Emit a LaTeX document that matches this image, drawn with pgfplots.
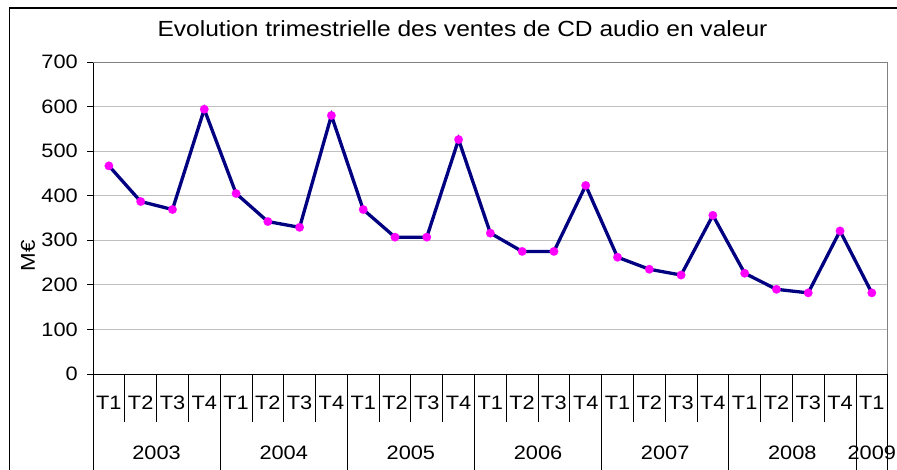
\documentclass[border=0pt]{standalone}
\usepackage{fontspec}
\setmainfont{Liberation Sans}[FakeStretch=1.12]
\usepackage{pgfplots}
\pgfplotsset{compat=1.18}
\definecolor{navyline}{RGB}{0,0,128}
\definecolor{mag}{RGB}{255,0,255}
\definecolor{gridgray}{RGB}{192,192,192}
\definecolor{framegray}{RGB}{128,128,128}
\begin{document}
\begin{tikzpicture}[x=1bp,y=1bp]
\useasboundingbox (0,0) rectangle (897,470);
\draw[black, line width=1.3bp] (9.5,-20) -- (9.5,462) -- (920,462);
\node[anchor=base, inner sep=0pt, font=\fontsize{22}{26}\selectfont] at (462.5,433) {Evolution trimestrielle des ventes de CD audio en valeur};
\node[rotate=90, inner sep=0pt, font=\fontsize{20}{24}\selectfont] at (28,214) {M€};
\begin{axis}[
  at={(93bp,96bp)}, anchor=south west,
  scale only axis, width=794.7bp, height=312bp,
  xmin=-0.5, xmax=24.5, ymin=0, ymax=700,
  axis x line*=bottom, axis y line*=left,
  axis line style={black, line width=0.9bp},
  ytick={0,100,...,700},
  ymajorgrids, grid style={gridgray, line width=0.8bp},
  ytick pos=left, tick align=outside, major tick length=6bp,
  tick style={black, line width=0.8bp},
  /pgf/number format/assume math mode=true,
  yticklabel style={font=\fontsize{19.5}{22}\selectfont, anchor=east, inner sep=0pt, xshift=-9bp},
  xtick={0,...,24},
  xticklabels={T1,T2,T3,T4,T1,T2,T3,T4,T1,T2,T3,T4,T1,T2,T3,T4,T1,T2,T3,T4,T1,T2,T3,T4,T1},
  x tick style={draw=none},
  xticklabel style={font=\fontsize{19.5}{22}\selectfont, anchor=base, inner sep=0pt, yshift=-30bp},
  clip=false,
]
\draw[framegray, line width=0.9bp] (rel axis cs:0,1) -- (rel axis cs:1,1) -- (rel axis cs:1,0);
\pgfplotsinvokeforeach{0.5,1.5,2.5,4.5,5.5,6.5,8.5,9.5,10.5,12.5,13.5,14.5,16.5,17.5,18.5,20.5,21.5,22.5}{
  \draw[black, line width=0.8bp] (axis cs:#1,0) -- ++(0bp,-48bp);
}
\pgfplotsinvokeforeach{-0.5,3.5,7.5,11.5,15.5,19.5,23.5,24.5}{
  \draw[black, line width=0.8bp] (axis cs:#1,0) -- ++(0bp,-130bp);
}
\node[anchor=base, inner sep=0pt, font=\fontsize{19.5}{22}\selectfont, yshift=-86bp] at (axis cs:1.5,0) {2003};
\node[anchor=base, inner sep=0pt, font=\fontsize{19.5}{22}\selectfont, yshift=-86bp] at (axis cs:5.5,0) {2004};
\node[anchor=base, inner sep=0pt, font=\fontsize{19.5}{22}\selectfont, yshift=-86bp] at (axis cs:9.5,0) {2005};
\node[anchor=base, inner sep=0pt, font=\fontsize{19.5}{22}\selectfont, yshift=-86bp] at (axis cs:13.5,0) {2006};
\node[anchor=base, inner sep=0pt, font=\fontsize{19.5}{22}\selectfont, yshift=-86bp] at (axis cs:17.5,0) {2007};
\node[anchor=base, inner sep=0pt, font=\fontsize{19.5}{22}\selectfont, yshift=-86bp] at (axis cs:21.5,0) {2008};
\node[anchor=base, inner sep=0pt, font=\fontsize{19.5}{22}\selectfont, yshift=-86bp] at (axis cs:24,0) {2009};
\addplot[navyline, line width=3.3bp, mark=*, mark size=4.3bp, mark options={fill=mag, draw=mag, line width=0.1bp}]
coordinates {
(0,467) (1,387) (2,369) (3,594)
(4,405) (5,342) (6,329) (7,580)
(8,369) (9,307) (10,307) (11,526)
(12,316) (13,275) (14,275) (15,423)
(16,262) (17,235) (18,222) (19,356)
(20,226) (21,190) (22,182) (23,321)
(24,182)
};
\end{axis}
\end{tikzpicture}
\end{document}
